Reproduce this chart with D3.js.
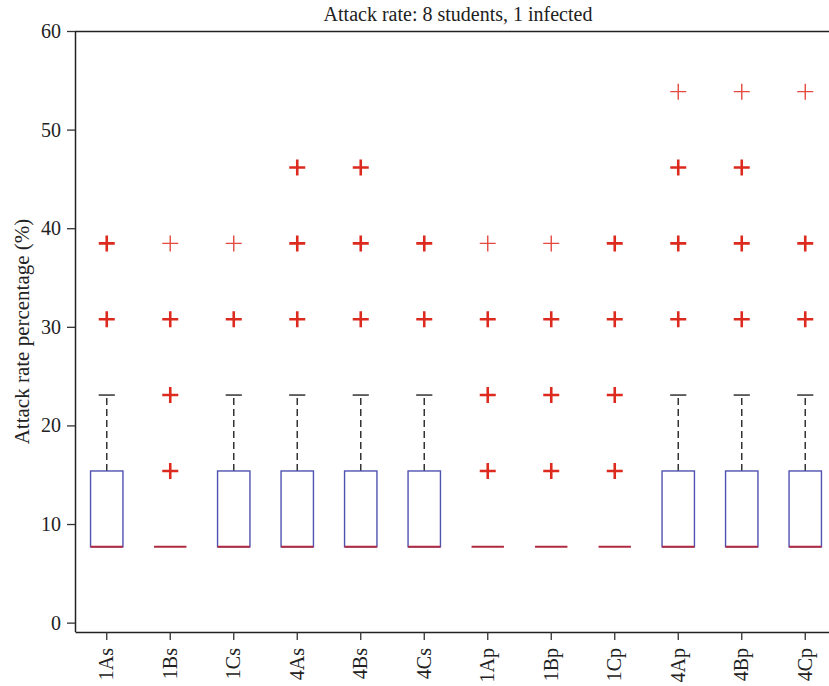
<!DOCTYPE html>
<html>
<head>
<meta charset="utf-8">
<script src="https://cdn.jsdelivr.net/npm/d3@7"></script>
<style>
  body { margin: 0; background: #fff; }
  svg { display: block; font-family: "Liberation Serif", "DejaVu Serif", serif; }
</style>
</head>
<body>
<script>
const categories = ["1As", "1Bs", "1Cs", "4As", "4Bs", "4Cs", "1Ap", "1Bp", "1Cp", "4Ap", "4Bp", "4Cp"];
const q1 = [7.69, 7.69, 7.69, 7.69, 7.69, 7.69, 7.69, 7.69, 7.69, 7.69, 7.69, 7.69];
const median = [7.69, 7.69, 7.69, 7.69, 7.69, 7.69, 7.69, 7.69, 7.69, 7.69, 7.69, 7.69];
const q3 = [15.38, 7.69, 15.38, 15.38, 15.38, 15.38, 7.69, 7.69, 7.69, 15.38, 15.38, 15.38];
const whiskerHigh = [23.08, 7.69, 23.08, 23.08, 23.08, 23.08, 7.69, 7.69, 7.69, 23.08, 23.08, 23.08];
// [value, how many points stack there]
const outliers = [
  [[30.77, 2], [38.46, 2]],
  [[15.38, 2], [23.08, 2], [30.77, 2], [38.46, 1]],
  [[30.77, 2], [38.46, 1]],
  [[30.77, 2], [38.46, 2], [46.15, 2]],
  [[30.77, 2], [38.46, 2], [46.15, 2]],
  [[30.77, 2], [38.46, 2]],
  [[15.38, 2], [23.08, 2], [30.77, 2], [38.46, 1]],
  [[15.38, 2], [23.08, 2], [30.77, 2], [38.46, 1]],
  [[15.38, 2], [23.08, 2], [30.77, 2], [38.46, 2]],
  [[30.77, 2], [38.46, 2], [46.15, 2], [53.85, 1]],
  [[30.77, 2], [38.46, 2], [46.15, 2], [53.85, 1]],
  [[30.77, 2], [38.46, 2], [53.85, 1]]
];
const yTicks = [0, 10, 20, 30, 40, 50, 60];

const width = 829, height = 686;
const margin = {top: 31, right: -8, bottom: 54, left: 75};

const x = d3.scaleBand()
  .domain(categories)
  .range([margin.left, width - margin.right]);

const y = d3.scaleLinear()
  .domain([-0.95, 60])
  .range([height - margin.bottom, margin.top]);

const boxes = categories.map((c, i) => ({
  cat: c, q1: q1[i], med: median[i], q3: q3[i], hi: whiskerHigh[i], out: outliers[i]
}));

const svg = d3.select("body").append("svg")
  .attr("width", width)
  .attr("height", height);

// title
svg.append("text")
  .attr("x", 458)
  .attr("y", 21)
  .attr("text-anchor", "middle")
  .attr("font-size", 20)
  .attr("fill", "#222")
  .text("Attack rate: 8 students, 1 infected");

// axes
const gy = svg.append("g")
  .attr("transform", `translate(${margin.left},0)`)
  .call(d3.axisLeft(y).tickValues(yTicks).tickSize(8).tickPadding(6).tickSizeOuter(0));
gy.select(".domain").attr("stroke", "#222").attr("stroke-width", 1.5)
  .attr("d", `M0.5,${height - margin.bottom}V${margin.top}`);
gy.selectAll(".tick line").attr("stroke", "#333").attr("stroke-width", 1.3);
gy.selectAll(".tick text").attr("font-size", 20).attr("fill", "#222")
  .attr("font-family", "Liberation Serif, serif");

const gx = svg.append("g")
  .attr("transform", `translate(0,${height - margin.bottom})`)
  .call(d3.axisBottom(x).tickSize(8).tickSizeOuter(0));
gx.select(".domain").attr("stroke", "#222").attr("stroke-width", 1.5);
gx.selectAll(".tick line").attr("stroke", "#333").attr("stroke-width", 1.3);
gx.selectAll(".tick text")
  .attr("font-size", 20).attr("fill", "#222")
  .attr("font-family", "Liberation Serif, serif")
  .attr("transform", "rotate(-90)")
  .attr("text-anchor", "end")
  .attr("x", -16).attr("y", 0).attr("dy", "0.33em");

// top border line
svg.append("line")
  .attr("x1", margin.left).attr("x2", width)
  .attr("y1", margin.top + 0.5).attr("y2", margin.top + 0.5)
  .attr("stroke", "#222").attr("stroke-width", 1.5);

// y label
svg.append("text")
  .attr("transform", `translate(29,${(margin.top + height - margin.bottom) / 2}) rotate(-90)`)
  .attr("text-anchor", "middle")
  .attr("font-size", 21)
  .attr("fill", "#222")
  .text("Attack rate percentage (%)");

const bw = x.bandwidth() * 0.51;
const cx = d => x(d.cat) + x.bandwidth() / 2;

const g = svg.append("g");

// whiskers
g.selectAll(".whisker")
  .data(boxes.filter(d => d.hi > d.q3))
  .join("line")
  .attr("x1", cx).attr("x2", cx)
  .attr("y1", d => y(d.q3)).attr("y2", d => y(d.hi))
  .attr("stroke", "#333").attr("stroke-width", 1.5)
  .attr("stroke-dasharray", "7,4");

g.selectAll(".cap")
  .data(boxes.filter(d => d.hi > d.q3))
  .join("line")
  .attr("x1", d => cx(d) - bw / 4).attr("x2", d => cx(d) + bw / 4)
  .attr("y1", d => y(d.hi)).attr("y2", d => y(d.hi))
  .attr("stroke", "#333").attr("stroke-width", 1.5);

// boxes
g.selectAll(".box")
  .data(boxes)
  .join("rect")
  .attr("x", d => cx(d) - bw / 2)
  .attr("y", d => y(d.q3))
  .attr("width", bw)
  .attr("height", d => y(d.q1) - y(d.q3))
  .attr("fill", "none")
  .attr("stroke", "#4e52b0")
  .attr("stroke-width", 1.4);

// medians
g.selectAll(".median")
  .data(boxes)
  .join("line")
  .attr("x1", d => cx(d) - bw / 2).attr("x2", d => cx(d) + bw / 2)
  .attr("y1", d => y(d.med)).attr("y2", d => y(d.med))
  .attr("stroke", "#b02a40").attr("stroke-width", 2);

// outliers as + marks
const pts = boxes.flatMap(d => d.out.map(([v, n]) => ({cat: d.cat, v, n})));
const arm = 8;
g.selectAll(".outlier")
  .data(pts)
  .join("path")
  .attr("d", d => {
    const px = cx(d), py = y(d.v);
    return `M${px - arm},${py}H${px + arm}M${px},${py - arm}V${py + arm}`;
  })
  .attr("fill", "none")
  .attr("stroke", d => d.n > 1 ? "#dc2a1e" : "#e44a40")
  .attr("stroke-width", d => d.n > 1 ? 2.6 : 1.4);
</script>
</body>
</html>
